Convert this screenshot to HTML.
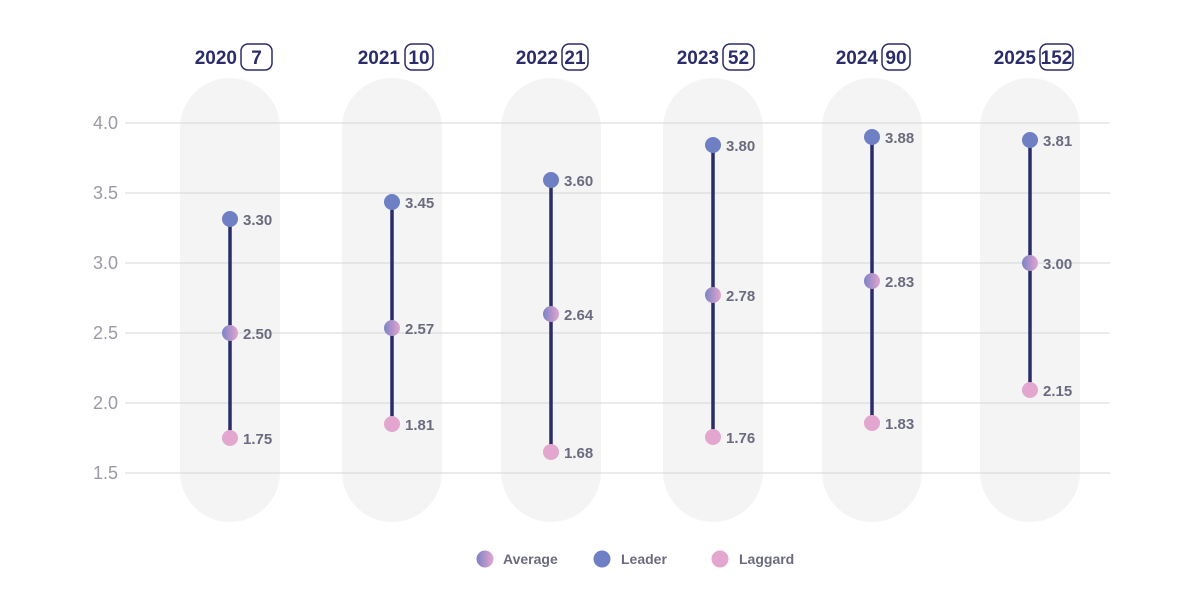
<!DOCTYPE html>
<html><head><meta charset="utf-8"><style>
html,body{margin:0;padding:0;background:#fff;}
svg{display:block;font-family:"Liberation Sans",sans-serif;}
</style></head><body>
<svg width="1200" height="605" viewBox="0 0 1200 605">
<defs>
<linearGradient id="avg" x1="0" x2="1" y1="0" y2="0"><stop offset="0" stop-color="#7d82c6"/><stop offset="1" stop-color="#e3a6cf"/></linearGradient>
</defs>
<g fill="#f3f4f3">
<rect x="180" y="78" width="100" height="444" rx="50"/>
<rect x="342" y="78" width="100" height="444" rx="50"/>
<rect x="501" y="78" width="100" height="444" rx="50"/>
<rect x="663" y="78" width="100" height="444" rx="50"/>
<rect x="822" y="78" width="100" height="444" rx="50"/>
<rect x="980" y="78" width="100" height="444" rx="50"/>
</g>
<g stroke="#d6d7da" stroke-width="1">
<line x1="125" x2="1110" y1="123" y2="123"/>
<line x1="125" x2="1110" y1="193" y2="193"/>
<line x1="125" x2="1110" y1="263" y2="263"/>
<line x1="125" x2="1110" y1="333" y2="333"/>
<line x1="125" x2="1110" y1="403" y2="403"/>
<line x1="125" x2="1110" y1="473" y2="473"/>
</g>
<g fill="#9a9aa8" font-size="18" text-anchor="end">
<text x="118" y="129">4.0</text><text x="118" y="199">3.5</text><text x="118" y="269">3.0</text>
<text x="118" y="339">2.5</text><text x="118" y="409">2.0</text><text x="118" y="479">1.5</text>
</g>
<g font-size="19" font-weight="bold" fill="#2b2d6b">
<text x="237" y="64" text-anchor="end">2020</text><rect x="241" y="44" width="31" height="26" rx="7" fill="none" stroke="#2b2d6b" stroke-width="1.5"/><text x="256.5" y="64" text-anchor="middle">7</text>
<text x="400" y="64" text-anchor="end">2021</text><rect x="405" y="44" width="28" height="26" rx="7" fill="none" stroke="#2b2d6b" stroke-width="1.5"/><text x="419" y="64" text-anchor="middle">10</text>
<text x="558" y="64" text-anchor="end">2022</text><rect x="562" y="44" width="26" height="26" rx="7" fill="none" stroke="#2b2d6b" stroke-width="1.5"/><text x="575" y="64" text-anchor="middle">21</text>
<text x="719" y="64" text-anchor="end">2023</text><rect x="723" y="44" width="31" height="26" rx="7" fill="none" stroke="#2b2d6b" stroke-width="1.5"/><text x="738.5" y="64" text-anchor="middle">52</text>
<text x="878" y="64" text-anchor="end">2024</text><rect x="882" y="44" width="28" height="26" rx="7" fill="none" stroke="#2b2d6b" stroke-width="1.5"/><text x="896" y="64" text-anchor="middle">90</text>
<text x="1036" y="64" text-anchor="end">2025</text><rect x="1040" y="44" width="33" height="26" rx="7" fill="none" stroke="#2b2d6b" stroke-width="1.5"/><text x="1056.5" y="64" text-anchor="middle">152</text>
</g>
<g stroke="#2b2d6b" stroke-width="3.5">
<line x1="230" x2="230" y1="219" y2="438"/>
<line x1="392" x2="392" y1="202" y2="424"/>
<line x1="551" x2="551" y1="180" y2="452"/>
<line x1="713" x2="713" y1="145" y2="437"/>
<line x1="872" x2="872" y1="137" y2="423"/>
<line x1="1030" x2="1030" y1="140" y2="390"/>
</g>
<g fill="#6f7fc4">
<circle cx="230" cy="219" r="8"/><circle cx="392" cy="202" r="8"/><circle cx="551" cy="180" r="8"/>
<circle cx="713" cy="145" r="8"/><circle cx="872" cy="137" r="8"/><circle cx="1030" cy="140" r="8"/>
</g>
<g fill="url(#avg)">
<circle cx="230" cy="333" r="8"/><circle cx="392" cy="328" r="8"/><circle cx="551" cy="314" r="8"/>
<circle cx="713" cy="295" r="8"/><circle cx="872" cy="281" r="8"/><circle cx="1030" cy="263" r="8"/>
</g>
<g fill="#e3a6cf">
<circle cx="230" cy="438" r="8"/><circle cx="392" cy="424" r="8"/><circle cx="551" cy="452" r="8"/>
<circle cx="713" cy="437" r="8"/><circle cx="872" cy="423" r="8"/><circle cx="1030" cy="390" r="8"/>
</g>
<g fill="#6b6b80" font-size="15" font-weight="bold">
<text x="243" y="225">3.30</text><text x="243" y="339">2.50</text><text x="243" y="444">1.75</text>
<text x="405" y="208">3.45</text><text x="405" y="334">2.57</text><text x="405" y="430">1.81</text>
<text x="564" y="186">3.60</text><text x="564" y="320">2.64</text><text x="564" y="458">1.68</text>
<text x="726" y="151">3.80</text><text x="726" y="301">2.78</text><text x="726" y="443">1.76</text>
<text x="885" y="143">3.88</text><text x="885" y="287">2.83</text><text x="885" y="429">1.83</text>
<text x="1043" y="146">3.81</text><text x="1043" y="269">3.00</text><text x="1043" y="396">2.15</text>
</g>
<circle cx="485" cy="559" r="8.5" fill="url(#avg)"/>
<circle cx="602" cy="559" r="8.5" fill="#6f7fc4"/>
<circle cx="720" cy="559" r="8.5" fill="#e3a6cf"/>
<g fill="#6b6b80" font-size="14" font-weight="bold">
<text x="503" y="564">Average</text><text x="621" y="564">Leader</text><text x="739" y="564">Laggard</text>
</g>
</svg>
</body></html>
